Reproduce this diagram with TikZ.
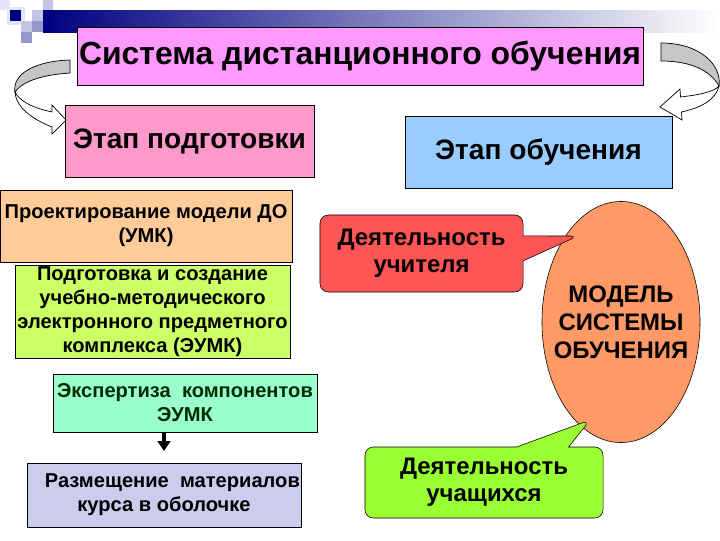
\documentclass[tikz,border=0pt]{standalone}
\usepackage{fontspec}
\setmainfont{Liberation Sans}
\usetikzlibrary{shapes.geometric, shapes.callouts, arrows.meta}
\definecolor{navyblue}{RGB}{0,0,128}
\definecolor{lavA}{RGB}{228,228,244}
\definecolor{lavB}{RGB}{196,196,228}
\definecolor{lavC}{RGB}{150,150,205}
\definecolor{titlepink}{RGB}{255,153,255}
\definecolor{preppink}{RGB}{255,153,204}
\definecolor{learnblue}{RGB}{153,204,255}
\definecolor{designpeach}{RGB}{255,204,153}
\definecolor{createlime}{RGB}{204,255,102}
\definecolor{expertmint}{RGB}{153,255,204}
\definecolor{placelav}{RGB}{204,204,238}
\definecolor{teacherred}{RGB}{255,85,85}
\definecolor{modelorange}{RGB}{255,153,102}
\definecolor{pupilgreen}{RGB}{153,255,51}
\definecolor{darkgreentext}{RGB}{0,45,0}
\tikzset{
  x=0.025cm, y=-0.025cm,                 % one unit = one pixel of the slide
  every node/.style = {inner sep=0pt, outer sep=0pt, align=center},
  stagebox/.style   = {rectangle, draw, font=\fontsize{20}{24}\selectfont\bfseries},
  taskbox/.style    = {rectangle, draw, font=\fontsize{14.3}{17}\selectfont\bfseries},
  bubble/.style     = {rectangle callout, draw, rounded corners=6pt,
                       font=\fontsize{17}{19.5}\selectfont\bfseries},
  twistgray/.style  = {draw, fill=gray!45, line width=0.5pt},
  twistwhite/.style = {draw, fill=white, line width=0.5pt},
  downarrow/.style  = {-{Triangle[width=9pt,length=7pt]}, line width=3.5pt, shorten >=0.3cm}
}
\begin{document}
\begin{tikzpicture}
  \useasboundingbox (0,0) rectangle (720,540);
  % corner squares and fading bar
  \fill[lavA] (0,0) rectangle (10,10);
  \fill[lavA] (7,7) rectangle (25,25);
  \fill[navyblue] (10,10) rectangle (21,21);
  \fill[lavB] (32,10) rectangle (43,21);
  \fill[lavB] (43,0) rectangle (53,10);
  \fill[lavB] (21,21) rectangle (32,32);
  \fill[lavC] (32,21) rectangle (43,32);
  \fill[lavC] (21,32) rectangle (32,43);
  \shade[left color=navyblue, middle color=gray!45, right color=white] (43,10) rectangle (720,32);

  \node[stagebox, fill=titlepink, minimum width=14.15cm, minimum height=1.45cm,
        font=\fontsize{22.7}{26}\selectfont\bfseries] (system) at (360,56)
    {Система дистанционного обучения};
  \node[stagebox, fill=preppink, minimum width=6.225cm, minimum height=1.8cm] (prep) at (189.5,141)
    {Этап подготовки};
  \node[stagebox, fill=learnblue, minimum width=6.675cm, minimum height=1.8cm] (learn) at (538.5,152)
    {Этап обучения};

  % twisted arrows from the title
  \draw[twistgray] (70,60) .. controls (35,61) and (12,74) .. (15,92)
    .. controls (22,82) and (40,75) .. (70,73) -- cycle;
  \draw[twistwhite] (15,92) .. controls (16,108) and (34,120) .. (52,127) -- (52,134) -- (66,120)
    -- (52,105) -- (52,112) .. controls (34,108) and (20,102) .. (15,92) -- cycle;
  \draw[twistgray] (661,43) .. controls (700,43) and (722,65) .. (719,86)
    .. controls (710,70) and (690,61) .. (661,61) -- cycle;
  \draw[twistwhite] (719,86) .. controls (716,100) and (700,108) .. (681.5,112) -- (682,120) -- (660,107)
    -- (680,89) -- (680.5,97) .. controls (698,95) and (714,92) .. (719,86) -- cycle;

  \node[taskbox, fill=designpeach, minimum width=7.3cm, minimum height=1.8cm] (design) at (146,226)
    {Проектирование модели ДО\\(УМК)};
  \node[taskbox, fill=createlime, minimum width=6.875cm, minimum height=2.325cm] (create) at (152.5,311.5)
    {Подготовка и создание\\учебно-методического\\электронного предметного\\комплекса (ЭУМК)};
  \node[taskbox, fill=expertmint, text=darkgreentext, minimum width=6.6cm, minimum height=1.45cm] (expert) at (185,403)
    {Экспертиза\ \ компонентов\\ЭУМК};
  \node[taskbox, fill=placelav, minimum width=6.85cm, minimum height=1.6cm] (place) at (164,495)
    {\ \ \ Размещение\ \ материалов\\курса в оболочке};
  \draw[downarrow] (expert.south -| place.north) -- (place.north);

  \node[ellipse, draw, fill=modelorange, minimum width=3.95cm, minimum height=6.025cm] (model) at (621,322) {};
  \node[font=\fontsize{17}{20}\selectfont\bfseries] (modeltext) at (model.center) {МОДЕЛЬ\\СИСТЕМЫ\\ОБУЧЕНИЯ};
  \node[bubble, fill=teacherred, minimum width=5.075cm, minimum height=1.925cm,
        callout absolute pointer={(578,236)}, callout pointer width=0.625cm] (teacher) at (421.5,253.5)
    {Деятельность\\учителя};
  \node[bubble, fill=pupilgreen, minimum width=5.95cm, minimum height=1.775cm,
        callout absolute pointer={(590,420)}, callout pointer width=1.3cm] (pupils) at (484,482.5)
    {Деятельность\\учащихся};
\end{tikzpicture}
\end{document}
